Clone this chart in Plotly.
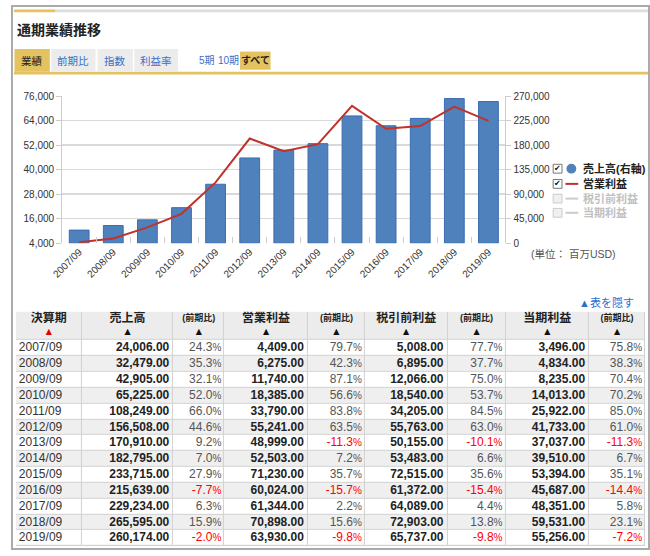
import plotly.graph_objects as go

## Data
YEARS = ["2007/09", "2008/09", "2009/09", "2010/09", "2011/09", "2012/09", "2013/09",
         "2014/09", "2015/09", "2016/09", "2017/09", "2018/09", "2019/09"]
SALES = [24006, 32479, 42905, 65225, 108249, 156508, 170910, 182795, 233715, 215639,
         229234, 265595, 260174]
SALES_YOY = [24.3, 35.3, 32.1, 52.0, 66.0, 44.6, 9.2, 7.0, 27.9, -7.7, 6.3, 15.9, -2.0]
OP_INCOME = [4409, 6275, 11740, 18385, 33790, 55241, 48999, 52503, 71230, 60024, 61344,
             70898, 63930]
OP_YOY = [79.7, 42.3, 87.1, 56.6, 83.8, 63.5, -11.3, 7.2, 35.7, -15.7, 2.2, 15.6, -9.8]
PRETAX = [5008, 6895, 12066, 18540, 34205, 55763, 50155, 53483, 72515, 61372, 64089,
          72903, 65737]
PRETAX_YOY = [77.7, 37.7, 75.0, 53.7, 84.5, 63.0, -10.1, 6.6, 35.6, -15.4, 4.4, 13.8, -9.8]
NET = [3496, 4834, 8235, 14013, 25922, 41733, 37037, 39510, 53394, 45687, 48351, 59531,
       55256]
NET_YOY = [75.8, 38.3, 70.4, 70.2, 85.0, 61.0, -11.3, 6.7, 35.1, -14.4, 5.8, 23.1, -7.2]

HEADERS = ["決算期", "売上高", "(前期比)", "営業利益", "(前期比)", "税引前利益", "(前期比)",
           "当期利益", "(前期比)"]
COL_WIDTHS = [67, 93, 52, 85, 58, 84, 59, 85, 57]
LEGEND_ITEMS = ["売上高(右軸)", "営業利益", "税引前利益", "当期利益"]
TABS = ["業績", "前期比", "指数", "利益率"]

W, H = 650, 556
FONT = "Liberation Sans, Noto Sans CJK JP, sans-serif"
BLUE = "#4f81bd"
RED = "#c0332b"
GOLD = "#e4c260"
HEAD_ROWS = 1.79  # header height in row units


def px(x):
    return x / W


def py(y):
    return 1 - y / H


fig = go.Figure()

## Chart
fig.add_trace(go.Bar(x=YEARS, y=SALES, yaxis="y",
                     marker=dict(color=BLUE, line=dict(color="#3c6db0", width=1)),
                     showlegend=False, hoverinfo="y"))
fig.add_trace(go.Scatter(x=YEARS, y=OP_INCOME, yaxis="y2", mode="lines",
                         line=dict(color=RED, width=2), showlegend=False))

tickfont = dict(family=FONT, size=10, color="#333")
hidden = dict(visible=False, showgrid=False, zeroline=False, fixedrange=True)
fig.update_layout(
    width=W, height=H, margin=dict(l=0, r=0, t=0, b=0),
    paper_bgcolor="white", plot_bgcolor="rgba(0,0,0,0)", bargap=0.42,
    font=dict(family=FONT),
    xaxis=dict(domain=[px(52), px(503)], anchor="y", type="category", tickangle=-45,
               tickfont=tickfont, ticks="inside", tickson="boundaries", ticklen=6,
               tickcolor="#cccccc", showgrid=False, showline=False),
    yaxis=dict(domain=[py(243), py(93)], side="right", range=[0, 270000], tick0=0,
               dtick=45000, tickformat=",d", tickfont=tickfont, showgrid=True,
               gridcolor="#d9d9d9", gridwidth=1.5, zeroline=False, showline=True,
               linecolor="#cccccc", ticks="outside", ticklen=5, tickcolor="#cccccc"),
    yaxis2=dict(overlaying="y", side="left", range=[4000, 76000], tick0=4000, dtick=12000,
                tickformat=",d", tickfont=tickfont, showgrid=False, zeroline=False,
                showline=True, linecolor="#cccccc", ticks="outside", ticklen=5,
                tickcolor="#cccccc"),
    xaxis3=dict(domain=[px(5), px(645)], anchor="y3", range=[0, sum(COL_WIDTHS)], **hidden),
    yaxis3=dict(domain=[py(552), py(313)], anchor="x3", range=[len(YEARS), -HEAD_ROWS],
                **hidden),
)

## Table: cell backgrounds as a heatmap with gaps for the borders
col_edges = [0]
for w in COL_WIDTHS:
    col_edges.append(col_edges[-1] + w)
row_edges = [-HEAD_ROWS] + list(range(len(YEARS) + 1))
shade = [[2] * len(HEADERS)] + [[i % 2] * len(HEADERS) for i in range(len(YEARS))]
fig.add_trace(go.Heatmap(x=col_edges, y=row_edges, z=shade, xaxis="x3", yaxis="y3",
                         colorscale=[[0, "#ffffff"], [0.5, "#efefef"], [1, "#ececec"]],
                         zmin=0, zmax=2, showscale=False, xgap=1, ygap=1, hoverinfo="skip"))


def vals(v):
    return ["{:,.2f}".format(x) for x in v]


def pcts(v):
    return ["{:.1f}<span style='font-size:10px'>%</span>".format(x) for x in v]


def pct_colors(v):
    return ["#ff0000" if x < 0 else "#555555" for x in v]


row_mid = [i + 0.52 for i in range(len(YEARS))]
columns = [YEARS, vals(SALES), pcts(SALES_YOY), vals(OP_INCOME), pcts(OP_YOY),
           vals(PRETAX), pcts(PRETAX_YOY), vals(NET), pcts(NET_YOY)]
yoy_cols = [SALES_YOY, OP_YOY, PRETAX_YOY, NET_YOY]
for c, texts in enumerate(columns):
    if c == 0:
        xpos, tpos, color, weight = col_edges[0] + 3, "middle right", "#333", "normal"
    elif c % 2 == 1:
        xpos, tpos, color, weight = col_edges[c + 1] - 4, "middle left", "#222", "bold"
    else:
        xpos, tpos, weight = col_edges[c + 1] - 3, "middle left", "normal"
        color = pct_colors(yoy_cols[c // 2 - 1])
    fig.add_trace(go.Scatter(x=[xpos] * len(texts), y=row_mid, text=texts, mode="text",
                             textposition=tpos, xaxis="x3", yaxis="y3", hoverinfo="skip",
                             textfont=dict(family=FONT, size=12, color=color, weight=weight),
                             showlegend=False))

# header labels and sort arrows
col_mid = [(a + b) / 2 for a, b in zip(col_edges[:-1], col_edges[1:])]
head_sizes = [12 if c == 0 or c % 2 == 1 else 9 for c in range(len(HEADERS))]
fig.add_trace(go.Scatter(x=col_mid, y=[-HEAD_ROWS + 0.45] * len(HEADERS), text=HEADERS,
                         mode="text", textposition="middle center", xaxis="x3", yaxis="y3",
                         textfont=dict(family=FONT, size=head_sizes, color="#222",
                                       weight="bold"),
                         hoverinfo="skip", showlegend=False))
fig.add_trace(go.Scatter(x=col_mid, y=[-HEAD_ROWS + 1.3] * len(HEADERS),
                         text=["▲"] * len(HEADERS), mode="text", textposition="middle center",
                         xaxis="x3", yaxis="y3", hoverinfo="skip", showlegend=False,
                         textfont=dict(family="DejaVu Sans", size=8,
                                       color=["#e00000"] + ["#111"] * (len(HEADERS) - 1))))

## Header decorations
shapes = [
    dict(type="rect", xref="x3", yref="y3", x0=0, x1=sum(COL_WIDTHS), y0=-HEAD_ROWS,
         y1=len(YEARS), fillcolor="#d2d2d2", line_width=0, layer="below"),
    dict(type="rect", xref="paper", yref="paper", x0=px(1), x1=px(649), y0=py(555), y1=py(1),
         line=dict(color="#aaaaaa", width=2)),
    dict(type="rect", xref="paper", yref="paper", x0=px(45), x1=px(648), y0=py(7.5), y1=py(4.5),
         fillcolor="#dddddd", line_width=0),
    dict(type="rect", xref="paper", yref="paper", x0=px(3), x1=px(45), y0=py(7.5), y1=py(4.5),
         fillcolor=GOLD, line_width=0),
    dict(type="rect", xref="paper", yref="paper", x0=px(3), x1=px(648), y0=py(71), y1=py(68),
         fillcolor=GOLD, line_width=0),
    dict(type="rect", xref="paper", yref="paper", x0=px(233), x1=px(264), y0=py(66), y1=py(47.5),
         fillcolor=GOLD, line_width=0),
]
annotations = [
    dict(text="<b>通期業績推移</b>", x=px(4), y=py(25), xanchor="left", yanchor="middle",
         font=dict(size=14, color="#222", family=FONT)),
]
tab_x = [(3.5, 39.5), (41, 86), (88, 124), (125.5, 170)]
for i, (t, (a, b)) in enumerate(zip(TABS, tab_x)):
    shapes.append(dict(type="rect", xref="paper", yref="paper", x0=px(a), x1=px(b), y0=py(68),
                       y1=py(45), fillcolor=GOLD if i == 0 else "#ececec", line_width=0))
    annotations.append(dict(text=t, x=px((a + b) / 2), y=py(57), xanchor="center",
                            yanchor="middle",
                            font=dict(size=10.5, color="#222" if i == 0 else "#3a6fc4",
                                      family=FONT)))
annotations += [
    dict(text="5期", x=px(199.5), y=py(57), xanchor="center", yanchor="middle",
         font=dict(size=10, color="#3a6fc4", family=FONT)),
    dict(text="10期", x=px(221.5), y=py(57), xanchor="center", yanchor="middle",
         font=dict(size=10, color="#3a6fc4", family=FONT)),
    dict(text="<b>すべて</b>", x=px(248.5), y=py(57), xanchor="center", yanchor="middle",
         font=dict(size=10, color="#222", family=FONT)),
    dict(text="(単位： 百万USD)", x=px(527), y=py(254), xanchor="left", yanchor="middle",
         font=dict(size=10.5, color="#555", family=FONT)),
    dict(text="▲表を隠す", x=px(636), y=py(304), xanchor="right", yanchor="middle",
         font=dict(size=11, color="#2a6fd0", family=FONT)),
]

## Legend (checkbox style)
leg_y = [167, 182.5, 197.5, 212]
for i, (name, y) in enumerate(zip(LEGEND_ITEMS, leg_y)):
    on = i < 2
    shapes.append(dict(type="rect", xref="paper", yref="paper", x0=px(551.5), x1=px(560.5),
                       y0=py(y + 4.5), y1=py(y - 4.5), fillcolor="white" if on else "#f0f0f0",
                       line=dict(color="#777" if on else "#cccccc", width=1)))
    if on:
        annotations.append(dict(text="✔", x=px(556), y=py(y), xanchor="center",
                                yanchor="middle",
                                font=dict(size=8, color="#111", family="DejaVu Sans")))
    if i == 0:
        shapes.append(dict(type="circle", xref="paper", yref="paper", x0=px(565), x1=px(575),
                           y0=py(y + 5), y1=py(y - 5), fillcolor=BLUE, line_width=0))
    else:
        shapes.append(dict(type="line", xref="paper", yref="paper", x0=px(564), x1=px(577),
                           y0=py(y), y1=py(y),
                           line=dict(color=RED if on else "#cccccc", width=2)))
    annotations.append(dict(text="<b>%s</b>" % name, x=px(580), y=py(y), xanchor="left",
                            yanchor="middle",
                            font=dict(size=11, color="#222" if on else "#c0c0c0", family=FONT)))

for a in annotations:
    a.update(xref="paper", yref="paper", showarrow=False)
fig.update_layout(shapes=shapes, annotations=annotations)

fig.write_html("out.html", config={"displayModeBar": False, "staticPlot": True},
               post_script="document.body.style.margin='0';")
